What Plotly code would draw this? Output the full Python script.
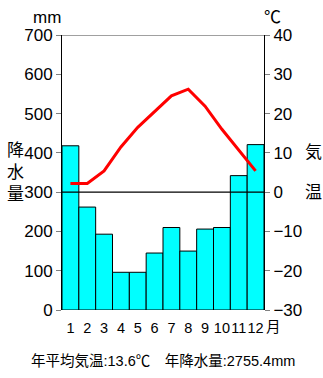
import plotly.graph_objects as go

months = list(range(1, 13))
month_labels = ["1", "2", "3", "4", "5", "6", "7", "8", "9", "10", "11", "12"]
month_unit = "月"
precip = [418, 262, 193, 96, 96, 145, 210, 150, 206, 210, 342, 421]
temp = [2.2, 2.2, 5.4, 11.5, 16.5, 20.5, 24.5, 26.2, 21.9, 16.0, 10.7, 5.4]
left_ticks = [0, 100, 200, 300, 400, 500, 600, 700]
right_ticks = [-30, -20, -10, 0, 10, 20, 30, 40]

FONT = "Liberation Sans, Arial, Noto Sans CJK JP"
W, H = 323, 378

fig = go.Figure()
fig.add_trace(go.Bar(
    x=months, y=precip, width=1.0,
    marker=dict(color="#00FFFF", line=dict(color="#000000", width=1)),
    yaxis="y", showlegend=False,
))
fig.add_trace(go.Scatter(
    x=months, y=temp, mode="lines",
    line=dict(color="#FF0000", width=3),
    yaxis="y2", showlegend=False,
))

fig.update_layout(
    width=W, height=H,
    margin=dict(l=62, r=59, t=35, b=68),
    paper_bgcolor="white", plot_bgcolor="white",
    font=dict(family=FONT, size=17, color="black"),
    xaxis=dict(
        range=[0.5, 12.5], tickmode="array", tickvals=months, ticktext=month_labels,
        showgrid=False, zeroline=False, showline=False, ticks="",
        tickangle=0, tickfont=dict(size=14.5), ticklabelstandoff=7, fixedrange=True,
    ),
    yaxis=dict(
        range=[0, 700], tickvals=left_ticks, showgrid=False, zeroline=False,
        showline=True, linecolor="black", linewidth=1,
        ticks="outside", ticklen=5, tickcolor="#808080", tickwidth=1,
        tickfont=dict(size=17),
    ),
    yaxis2=dict(
        range=[-30, 40], tickvals=right_ticks, overlaying="y", side="right",
        showgrid=False, zeroline=False,
        showline=True, linecolor="black", linewidth=1,
        ticks="outside", ticklen=5, tickcolor="#808080", tickwidth=1,
        tickfont=dict(size=17),
    ),
    shapes=[
        dict(type="line", xref="paper", yref="y", x0=0, x1=1, y0=300, y1=300,
             line=dict(color="black", width=1.2)),
        dict(type="line", xref="paper", yref="y", x0=0, x1=1, y0=700, y1=700,
             line=dict(color="#808080", width=1.5)),
    ],
    annotations=[
        dict(text=month_unit, xref="paper", yref="paper", x=1.0, y=-(327-310)/275,
             xanchor="left", yanchor="middle", showarrow=False, font=dict(size=14.5)),
        dict(text="mm", xref="paper", yref="paper", x=-15/202, y=1 + 18/275,
             xanchor="center", yanchor="middle", showarrow=False, font=dict(size=17)),
        dict(text="℃", xref="paper", yref="paper", x=1 + 8/202, y=1 + 18/275,
             xanchor="center", yanchor="middle", showarrow=False, font=dict(size=17)),
        dict(text="降<br>水<br>量", xref="paper", yref="paper", x=-47/202, y=(310-172)/275,
             xanchor="center", yanchor="middle", showarrow=False, font=dict(size=17)),
        dict(text="気", xref="paper", yref="paper", x=1 + 49/202, y=(310-152)/275,
             xanchor="center", yanchor="middle", showarrow=False, font=dict(size=17)),
        dict(text="温", xref="paper", yref="paper", x=1 + 49/202, y=(310-192)/275,
             xanchor="center", yanchor="middle", showarrow=False, font=dict(size=17)),
        dict(text="年平均気温:13.6℃　年降水量:2755.4mm", xref="paper", yref="paper",
             x=(163-62)/202, y=-(361-310)/275,
             xanchor="center", yanchor="middle", showarrow=False, font=dict(size=14.5)),
    ],
)

fig.write_html("out.html")
